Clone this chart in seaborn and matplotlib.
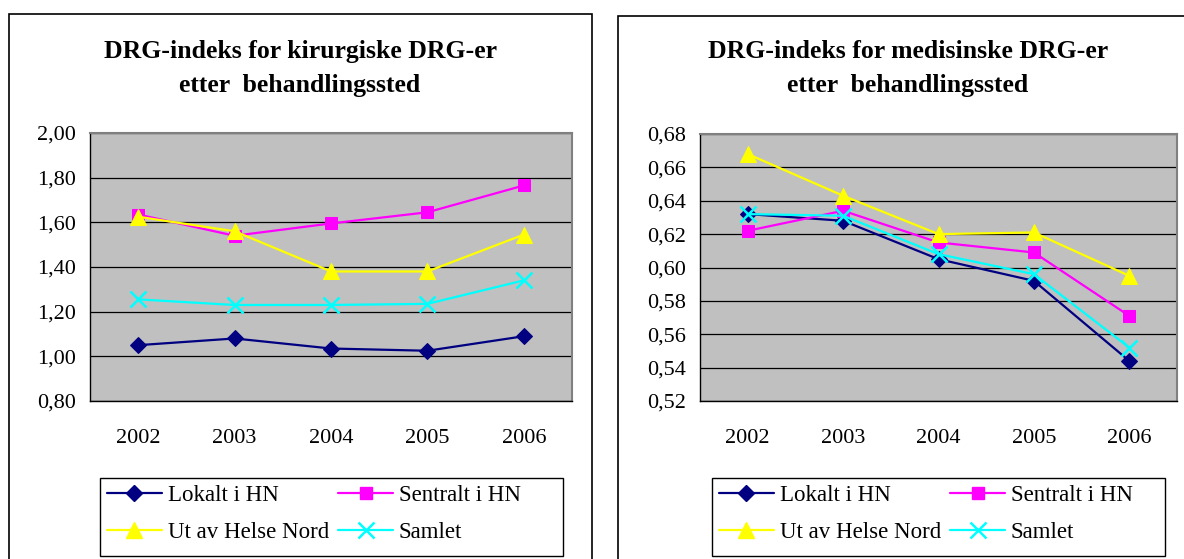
import numpy as np
import pandas as pd
import matplotlib
matplotlib.use('Agg')
import matplotlib.pyplot as plt
import seaborn as sns
from matplotlib.patches import Rectangle
from matplotlib.lines import Line2D
from matplotlib.ticker import FixedLocator, FuncFormatter

# ---------------- data ----------------
years = [2002, 2003, 2004, 2005, 2006]
series_names = ['Lokalt i HN', 'Sentralt i HN', 'Ut av Helse Nord', 'Samlet']

kir_lokalt = [1.05, 1.08, 1.035, 1.025, 1.09]
kir_sentralt = [1.635, 1.54, 1.595, 1.645, 1.765]
kir_ut = [1.625, 1.56, 1.38, 1.38, 1.545]
kir_samlet = [1.255, 1.23, 1.23, 1.235, 1.34]

med_lokalt = [0.632, 0.628, 0.605, 0.592, 0.544]
med_sentralt = [0.622, 0.634, 0.615, 0.609, 0.571]
med_ut = [0.668, 0.643, 0.620, 0.621, 0.595]
med_samlet = [0.632, 0.631, 0.608, 0.596, 0.552]

title_left = 'DRG-indeks for kirurgiske DRG-er\netter  behandlingssted'
title_right = 'DRG-indeks for medisinske DRG-er\netter  behandlingssted'
yticks_left = [0.80, 1.00, 1.20, 1.40, 1.60, 1.80, 2.00]
yticks_right = [0.52, 0.54, 0.56, 0.58, 0.60, 0.62, 0.64, 0.66, 0.68]

colors = ['#000080', '#FF00FF', '#FFFF00', '#00FFFF']
markers = ['D', 's', '^', 'X']


def long_df(vals):
    rows = []
    for name, v in zip(series_names, vals):
        for y, val in zip(years, v):
            rows.append({'year': y, 'value': val, 'series': name})
    return pd.DataFrame(rows)


df_kir = long_df([kir_lokalt, kir_sentralt, kir_ut, kir_samlet])
df_med = long_df([med_lokalt, med_sentralt, med_ut, med_samlet])

# ---------------- figure ----------------
sns.set_style('white')
plt.rcParams['font.family'] = ['Liberation Serif', 'DejaVu Serif']
plt.rcParams['text.color'] = 'black'
plt.rcParams['xtick.color'] = 'black'
plt.rcParams['ytick.color'] = 'black'
plt.rcParams['axes.labelcolor'] = 'black'

W, H = 1184, 559
fig = plt.figure(figsize=(W / 100, H / 100), dpi=100)
fig.patch.set_facecolor('white')


def frac(x0, y0, x1, y1):
    return [x0 / W, 1 - y1 / H, (x1 - x0) / W, (y1 - y0) / H]


def box(x0, y0, x1, y1, lw):
    fig.patches.append(Rectangle((x0 / W, 1 - y1 / H), (x1 - x0) / W, (y1 - y0) / H,
                                 transform=fig.transFigure, facecolor='none',
                                 edgecolor='black', linewidth=lw))


# outer chart boxes
box(9, 14, 592, 600, 1.2)
box(618, 16, 1230, 600, 1.2)

marker_sizes = {'D': 8, 's': 8, '^': 11, 'X': 10}


def make_handle(c, m):
    if m == 'X':
        return Line2D([], [], color=c, linewidth=1.6, marker='x', markersize=11,
                      markeredgewidth=1.8)
    return Line2D([], [], color=c, linewidth=1.6, marker=m,
                  markersize=marker_sizes[m], markeredgecolor=c)


def draw(ax, df, yticks, title, title_x, legend_rect):
    ax.set_facecolor('#C0C0C0')
    for name, c, m in zip(series_names, colors, markers):
        sub = df[df['series'] == name]
        if m == 'X':
            sns.lineplot(data=sub, x='year', y='value', ax=ax, color=c, linewidth=1.6,
                         marker='x', markersize=11, markeredgewidth=1.8,
                         markeredgecolor=c, legend=False)
        else:
            sns.lineplot(data=sub, x='year', y='value', ax=ax, color=c, linewidth=1.6,
                         marker=m, markersize=marker_sizes[m], markeredgecolor=c,
                         legend=False)
    ax.set_xlim(2001.5, 2006.5)
    ax.set_ylim(yticks[0], yticks[-1])
    ax.yaxis.set_major_locator(FixedLocator(yticks))
    ax.yaxis.set_major_formatter(FuncFormatter(lambda v, p: f'{v:.2f}'.replace('.', ',')))
    ax.xaxis.set_major_locator(FixedLocator([2001.5 + i for i in range(6)]))
    ax.xaxis.set_major_formatter(FuncFormatter(lambda v, p: ''))
    ax.xaxis.set_minor_locator(FixedLocator(years))
    ax.xaxis.set_minor_formatter(FuncFormatter(lambda v, p: str(int(round(v)))))
    ax.tick_params(axis='x', which='minor', length=0, labelsize=16, pad=20)
    ax.tick_params(axis='x', which='major', length=6, width=1, color='black', direction='out')
    ax.tick_params(axis='y', which='major', length=6, width=1, color='black',
                   direction='out', labelsize=16, pad=4)
    ax.grid(axis='y', color='black', linewidth=0.9)
    ax.grid(axis='x', visible=False)
    ax.set_axisbelow(True)
    for s in ['top', 'right']:
        ax.spines[s].set_color('#808080')
        ax.spines[s].set_linewidth(1.5)
    for s in ['left', 'bottom']:
        ax.spines[s].set_color('black')
        ax.spines[s].set_linewidth(1.0)
    ax.set_xlabel('')
    ax.set_ylabel('')
    fig.text(title_x / W, 1 - 40 / H, title, ha='center', va='top', fontsize=18.5,
             fontweight='bold', linespacing=1.6)

    # legend: row-wise order like the reference (matplotlib fills column-wise)
    order = [0, 2, 1, 3]
    handles = [make_handle(colors[i], markers[i]) for i in order]
    labels = [series_names[i] for i in order]
    x0, y0, x1, y1 = legend_rect
    box(x0, y0, x1, y1, 1.0)
    fig.legend(handles, labels, loc='upper left',
               bbox_to_anchor=(x0 / W, 1 - y0 / H),
               ncol=2, fontsize=16.5, frameon=False, handlelength=2.4,
               handletextpad=0.25, columnspacing=0.4, borderpad=0.3,
               labelspacing=0.68, numpoints=1, borderaxespad=0)


ax1 = fig.add_axes(frac(90, 133, 572, 401))
ax2 = fig.add_axes(frac(700, 134, 1177, 401))

draw(ax1, df_kir, yticks_left, title_left, 300, (100, 478, 563, 556))
draw(ax2, df_med, yticks_right, title_right, 908, (712, 478, 1165, 556))

fig.savefig('out.png', dpi=100, facecolor='white')
